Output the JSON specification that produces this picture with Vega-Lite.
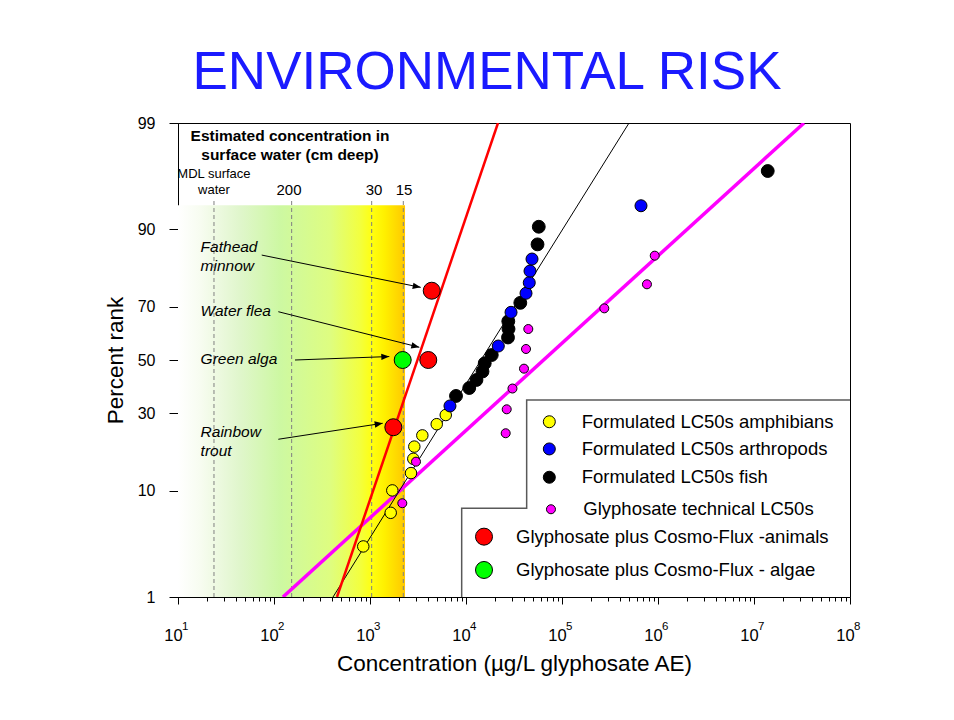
{
  "$schema": "https://vega.github.io/schema/vega-lite/v6.json",
  "autosize": {"type": "none"},
  "width": 672,
  "height": 474,
  "padding": {"left": 178, "top": 123, "right": 104, "bottom": 123},
  "background": "white",
  "title": {"text": "ENVIRONMENTAL RISK", "fontSize": 53, "font": "Liberation Sans", "fontWeight": "normal", "color": "#1a1aff", "anchor": "middle", "frame": "group", "dx": -27, "dy": 58, "offset": 31, "baseline": "alphabetic"},
  "config": {
    "font": "Liberation Sans",
    "view": {"stroke": "#000", "strokeWidth": 1},
    "axis": {"grid": false, "domainColor": "#000", "tickColor": "#000", "labelColor": "#000", "titleColor": "#000", "labelFont": "Liberation Sans", "titleFont": "Liberation Sans", "titleFontWeight": "normal"}
  },
  "datasets": {
    "zone": [{"conc": 10, "conc2": 2317, "probit": -2.3263, "probit2": 1.52}],
    "depthLines": [
      {"depth": "MDL", "conc": 23.7, "probit": -2.3263, "probit2": 1.57},
      {"depth": "200", "conc": 152.7, "probit": -2.3263, "probit2": 1.57},
      {"depth": "30", "conc": 1041, "probit": -2.3263, "probit2": 1.57},
      {"depth": "15", "conc": 2223, "probit": -2.3263, "probit2": 1.57}
    ],
    "fitFish": [{"conc": 412, "probit": -2.3263}, {"conc": 499000, "probit": 2.3263}],
    "fitTechnical": [{"conc": 124, "probit": -2.3263}, {"conc": 33190000, "probit": 2.3263}],
    "fitCosmo": [{"conc": 453, "probit": -2.3263}, {"conc": 21540, "probit": 2.3263}],
    "arrows": [
      {"arrow": "Fathead minnow", "end": "tail", "conc": 74.5, "probit": 1.03},
      {"arrow": "Fathead minnow", "end": "head", "conc": 3373, "probit": 0.713},
      {"arrow": "Water flea", "end": "tail", "conc": 110.9, "probit": 0.474},
      {"arrow": "Water flea", "end": "head", "conc": 3262, "probit": 0.125},
      {"arrow": "Green alga", "end": "tail", "conc": 165.6, "probit": 0.0},
      {"arrow": "Green alga", "end": "head", "conc": 1589, "probit": 0.034},
      {"arrow": "Rainbow trout", "end": "tail", "conc": 110.9, "probit": -0.778},
      {"arrow": "Rainbow trout", "end": "head", "conc": 1355, "probit": -0.621}
    ],
    "points": [
      {"group": "amphibians", "conc": 851, "probit": -1.83},
      {"group": "amphibians", "conc": 1643, "probit": -1.5},
      {"group": "amphibians", "conc": 1707, "probit": -1.28},
      {"group": "amphibians", "conc": 2673, "probit": -1.11},
      {"group": "amphibians", "conc": 2825, "probit": -0.97},
      {"group": "amphibians", "conc": 2894, "probit": -0.85},
      {"group": "amphibians", "conc": 3508, "probit": -0.74},
      {"group": "amphibians", "conc": 4955, "probit": -0.63},
      {"group": "amphibians", "conc": 6152, "probit": -0.54},
      {"group": "fish", "conc": 7870, "probit": -0.353},
      {"group": "fish", "conc": 10810, "probit": -0.275},
      {"group": "fish", "conc": 12850, "probit": -0.196},
      {"group": "fish", "conc": 14860, "probit": -0.113},
      {"group": "fish", "conc": 15670, "probit": -0.032},
      {"group": "fish", "conc": 18540, "probit": 0.049},
      {"group": "fish", "conc": 27380, "probit": 0.221},
      {"group": "fish", "conc": 27730, "probit": 0.304},
      {"group": "fish", "conc": 27580, "probit": 0.38},
      {"group": "fish", "conc": 36790, "probit": 0.561},
      {"group": "fish", "conc": 55590, "probit": 1.135},
      {"group": "fish", "conc": 57280, "probit": 1.308},
      {"group": "fish", "conc": 13900000, "probit": 1.855},
      {"group": "arthropods", "conc": 6808, "probit": -0.451},
      {"group": "arthropods", "conc": 21700, "probit": 0.137},
      {"group": "arthropods", "conc": 29440, "probit": 0.468},
      {"group": "arthropods", "conc": 42170, "probit": 0.655},
      {"group": "arthropods", "conc": 45600, "probit": 0.759},
      {"group": "arthropods", "conc": 46420, "probit": 0.873},
      {"group": "arthropods", "conc": 48700, "probit": 0.991},
      {"group": "arthropods", "conc": 665000, "probit": 1.514},
      {"group": "technical", "conc": 2170, "probit": -1.406},
      {"group": "technical", "conc": 3013, "probit": -0.998},
      {"group": "technical", "conc": 25910, "probit": -0.719},
      {"group": "technical", "conc": 26550, "probit": -0.484},
      {"group": "technical", "conc": 30480, "probit": -0.28},
      {"group": "technical", "conc": 40180, "probit": -0.085},
      {"group": "technical", "conc": 42170, "probit": 0.108},
      {"group": "technical", "conc": 44570, "probit": 0.304},
      {"group": "technical", "conc": 275800, "probit": 0.507},
      {"group": "technical", "conc": 767000, "probit": 0.743},
      {"group": "technical", "conc": 924700, "probit": 1.024},
      {"group": "animals", "conc": 4395, "probit": 0.68},
      {"group": "animals", "conc": 4046, "probit": 0.0},
      {"group": "animals", "conc": 1750, "probit": -0.66},
      {"group": "algae", "conc": 2191, "probit": 0.0}
    ],
    "legendBox": [
      {"order": 1, "conc": 100000000, "probit": -0.393},
      {"order": 2, "conc": 42850, "probit": -0.393},
      {"order": 3, "conc": 42850, "probit": -1.455},
      {"order": 4, "conc": 9016, "probit": -1.455},
      {"order": 5, "conc": 9016, "probit": -2.3263}
    ],
    "legendSymbols": [
      {"group": "amphibians", "conc": 73790, "probit": -0.606},
      {"group": "arthropods", "conc": 73790, "probit": -0.873},
      {"group": "fish", "conc": 73790, "probit": -1.151},
      {"group": "technical", "conc": 76740, "probit": -1.465},
      {"group": "animals", "conc": 15400, "probit": -1.734},
      {"group": "algae", "conc": 15400, "probit": -2.061}
    ],
    "legendLabels": [
      {"label": "Formulated LC50s amphibians", "conc": 160300, "probit": -0.606},
      {"label": "Formulated LC50s arthropods", "conc": 160300, "probit": -0.873},
      {"label": "Formulated LC50s fish", "conc": 160300, "probit": -1.151},
      {"label": "Glyphosate technical LC50s", "conc": 166700, "probit": -1.465},
      {"label": "Glyphosate plus Cosmo-Flux -animals", "conc": 33190, "probit": -1.734},
      {"label": "Glyphosate plus Cosmo-Flux - algae", "conc": 33190, "probit": -2.061}
    ],
    "header": [
      {"label": "Estimated concentration in", "conc": 146.8, "probit": 2.201},
      {"label": "surface water (cm deep)", "conc": 146.8, "probit": 2.012}
    ],
    "mdl": [
      {"label": "MDL surface", "conc": 23.7, "probit": 1.825},
      {"label": "water", "conc": 23.7, "probit": 1.668}
    ],
    "depthLabels": [
      {"label": "200", "conc": 143.3, "probit": 1.668},
      {"label": "30", "conc": 1101, "probit": 1.668},
      {"label": "15", "conc": 2260, "probit": 1.668}
    ],
    "species": [
      {"label": "Fathead", "conc": 17.2, "probit": 1.112},
      {"label": "minnow", "conc": 17.2, "probit": 0.922},
      {"label": "Water flea", "conc": 17.2, "probit": 0.481},
      {"label": "Green alga", "conc": 17.2, "probit": 0.007},
      {"label": "Rainbow", "conc": 17.2, "probit": -0.704},
      {"label": "trout", "conc": 17.2, "probit": -0.89}
    ],
    "exponents": [
      {"exp": "1", "conc": 10, "probit": -2.3263},
      {"exp": "2", "conc": 100, "probit": -2.3263},
      {"exp": "3", "conc": 1000, "probit": -2.3263},
      {"exp": "4", "conc": 10000, "probit": -2.3263},
      {"exp": "5", "conc": 100000, "probit": -2.3263},
      {"exp": "6", "conc": 1000000, "probit": -2.3263},
      {"exp": "7", "conc": 10000000, "probit": -2.3263},
      {"exp": "8", "conc": 100000000, "probit": -2.3263}
    ]
  },
  "encoding": {
    "x": {
      "field": "conc", "type": "quantitative",
      "scale": {"type": "log", "domain": [10, 100000000], "nice": false},
      "axis": {
        "title": "Concentration (µg/L glyphosate AE)",
        "titleFontSize": 22.5, "titlePadding": 9,
        "values": [10,20,30,40,50,60,70,80,90,100,200,300,400,500,600,700,800,900,1000,2000,3000,4000,5000,6000,7000,8000,9000,10000,20000,30000,40000,50000,60000,70000,80000,90000,100000,200000,300000,400000,500000,600000,700000,800000,900000,1000000,2000000,3000000,4000000,5000000,6000000,7000000,8000000,9000000,10000000,20000000,30000000,40000000,50000000,60000000,70000000,80000000,90000000,100000000],
        "labelExpr": "abs(log(datum.value)/LN10 - round(log(datum.value)/LN10)) < 0.001 ? '10' : ''",
        "tickSize": {"condition": {"test": "abs(log(datum.value)/LN10 - round(log(datum.value)/LN10)) < 0.001", "value": 7}, "value": 4},
        "labelFontSize": 16.5, "labelPadding": 23, "labelOffset": -5, "labelOverlap": false, "labelFlush": false
      }
    },
    "y": {
      "field": "probit", "type": "quantitative",
      "scale": {"domain": [-2.3263, 2.3263], "nice": false, "zero": false},
      "axis": {
        "title": "Percent rank", "titleFontSize": 22.5, "titlePadding": 10,
        "values": [-2.3263, -1.2816, -0.5244, 0, 0.5244, 1.2816, 2.3263],
        "labelExpr": "datum.value < -2 ? '1' : datum.value < -1 ? '10' : datum.value < -0.3 ? '30' : datum.value < 0.3 ? '50' : datum.value < 1 ? '70' : datum.value < 2 ? '90' : '99'",
        "tickSize": 9, "labelFontSize": 16, "labelPadding": 14
      }
    },
    "fill": {"field": "group", "type": "nominal", "legend": null, "scale": {"domain": ["amphibians", "arthropods", "fish", "technical", "animals", "algae"], "range": ["#ffff00", "#0000ff", "#000000", "#ff00ff", "#ff0000", "#00ff00"]}}
  },
  "layer": [
    {
      "data": {"name": "zone"},
      "mark": {"type": "rect", "color": {"gradient": "linear", "x1": 0, "y1": 0, "x2": 1, "y2": 0, "stops": [
        {"offset": 0, "color": "#ffffff"},
        {"offset": 0.1, "color": "#f7fcf0"},
        {"offset": 0.27, "color": "#e0f6cc"},
        {"offset": 0.45, "color": "#cdf8a2"},
        {"offset": 0.67, "color": "#defd80"},
        {"offset": 0.8, "color": "#f2ff40"},
        {"offset": 0.855, "color": "#ffff10"},
        {"offset": 0.91, "color": "#fff000"},
        {"offset": 1, "color": "#ffc800"}
      ]}},
      "encoding": {"x2": {"field": "conc2"}, "y2": {"field": "probit2"}, "fill": null}
    },
    {
      "data": {"name": "depthLines"},
      "mark": {"type": "rule", "color": "#808080", "strokeDash": [4, 3], "strokeWidth": 1},
      "encoding": {"y2": {"field": "probit2"}, "fill": null}
    },
    {
      "data": {"name": "fitTechnical"},
      "mark": {"type": "line", "color": "#ff00ff", "strokeWidth": 3.5, "clip": true},
      "encoding": {"fill": null}
    },
    {
      "data": {"name": "fitFish"},
      "mark": {"type": "line", "color": "#000000", "strokeWidth": 1, "clip": true},
      "encoding": {"fill": null}
    },
    {
      "data": {"name": "fitCosmo"},
      "mark": {"type": "line", "color": "#ff0000", "strokeWidth": 2.5, "clip": true},
      "encoding": {"fill": null}
    },
    {
      "data": {"name": "arrows"},
      "mark": {"type": "line", "color": "#000000", "strokeWidth": 1},
      "encoding": {"detail": {"field": "arrow"}, "fill": null}
    },
    {
      "data": {"name": "arrows"},
      "transform": [{"filter": "datum.end == 'head' && datum.arrow == 'Fathead minnow'"}],
      "mark": {"type": "point", "shape": "M0,0L-1,-0.4L-1,0.4Z", "filled": true, "color": "#000", "opacity": 1, "size": 256, "angle": 11.5},
      "encoding": {"fill": null}
    },
    {
      "data": {"name": "arrows"},
      "transform": [{"filter": "datum.end == 'head' && datum.arrow == 'Water flea'"}],
      "mark": {"type": "point", "shape": "M0,0L-1,-0.4L-1,0.4Z", "filled": true, "color": "#000", "opacity": 1, "size": 256, "angle": 14.2},
      "encoding": {"fill": null}
    },
    {
      "data": {"name": "arrows"},
      "transform": [{"filter": "datum.end == 'head' && datum.arrow == 'Green alga'"}],
      "mark": {"type": "point", "shape": "M0,0L-1,-0.4L-1,0.4Z", "filled": true, "color": "#000", "opacity": 1, "size": 256, "angle": -2.1},
      "encoding": {"fill": null}
    },
    {
      "data": {"name": "arrows"},
      "transform": [{"filter": "datum.end == 'head' && datum.arrow == 'Rainbow trout'"}],
      "mark": {"type": "point", "shape": "M0,0L-1,-0.4L-1,0.4Z", "filled": true, "color": "#000", "opacity": 1, "size": 256, "angle": -8.7},
      "encoding": {"fill": null}
    },
    {
      "data": {"name": "points"},
      "transform": [{"filter": "datum.group == 'amphibians'"}],
      "mark": {"type": "point", "shape": "circle", "filled": true, "stroke": "#000", "strokeWidth": 1, "opacity": 1, "size": 132},
      "encoding": {}
    },
    {
      "data": {"name": "points"},
      "transform": [{"filter": "datum.group == 'fish'"}],
      "mark": {"type": "point", "shape": "circle", "filled": true, "stroke": "#000", "strokeWidth": 1, "opacity": 1, "size": 165},
      "encoding": {}
    },
    {
      "data": {"name": "points"},
      "transform": [{"filter": "datum.group == 'arthropods'"}],
      "mark": {"type": "point", "shape": "circle", "filled": true, "stroke": "#000", "strokeWidth": 1, "opacity": 1, "size": 144},
      "encoding": {}
    },
    {
      "data": {"name": "points"},
      "transform": [{"filter": "datum.group == 'technical'"}],
      "mark": {"type": "point", "shape": "circle", "filled": true, "stroke": "#000", "strokeWidth": 1, "opacity": 1, "size": 81},
      "encoding": {}
    },
    {
      "data": {"name": "points"},
      "transform": [{"filter": "datum.group == 'animals' || datum.group == 'algae'"}],
      "mark": {"type": "point", "shape": "circle", "filled": true, "stroke": "#000", "strokeWidth": 1, "opacity": 1, "size": 289},
      "encoding": {}
    },
    {
      "data": {"name": "legendBox"},
      "mark": {"type": "line", "color": "#595959", "strokeWidth": 1.5},
      "encoding": {"order": {"field": "order", "type": "quantitative"}, "fill": null}
    },
    {
      "data": {"name": "legendSymbols"},
      "transform": [{"filter": "datum.group == 'amphibians' || datum.group == 'arthropods' || datum.group == 'fish'"}],
      "mark": {"type": "point", "shape": "circle", "filled": true, "stroke": "#000", "strokeWidth": 1, "opacity": 1, "size": 144},
      "encoding": {}
    },
    {
      "data": {"name": "legendSymbols"},
      "transform": [{"filter": "datum.group == 'technical'"}],
      "mark": {"type": "point", "shape": "circle", "filled": true, "stroke": "#000", "strokeWidth": 1, "opacity": 1, "size": 81},
      "encoding": {}
    },
    {
      "data": {"name": "legendSymbols"},
      "transform": [{"filter": "datum.group == 'animals' || datum.group == 'algae'"}],
      "mark": {"type": "point", "shape": "circle", "filled": true, "stroke": "#000", "strokeWidth": 1, "opacity": 1, "size": 289},
      "encoding": {}
    },
    {
      "data": {"name": "legendLabels"},
      "mark": {"type": "text", "align": "left", "baseline": "middle", "fontSize": 18.5, "color": "#000"},
      "encoding": {"text": {"field": "label"}, "fill": null}
    },
    {
      "data": {"name": "header"},
      "mark": {"type": "text", "align": "center", "baseline": "middle", "fontSize": 15.5, "fontWeight": "bold", "color": "#000"},
      "encoding": {"text": {"field": "label"}, "fill": null}
    },
    {
      "data": {"name": "mdl"},
      "mark": {"type": "text", "align": "center", "baseline": "middle", "fontSize": 13, "color": "#000"},
      "encoding": {"text": {"field": "label"}, "fill": null}
    },
    {
      "data": {"name": "depthLabels"},
      "mark": {"type": "text", "align": "center", "baseline": "middle", "fontSize": 15, "color": "#000"},
      "encoding": {"text": {"field": "label"}, "fill": null}
    },
    {
      "data": {"name": "species"},
      "mark": {"type": "text", "align": "left", "baseline": "middle", "fontSize": 15.5, "fontStyle": "italic", "color": "#000"},
      "encoding": {"text": {"field": "label"}, "fill": null}
    },
    {
      "data": {"name": "exponents"},
      "mark": {"type": "text", "align": "left", "baseline": "middle", "fontSize": 11.5, "color": "#000", "dx": 4, "dy": 30, "clip": false},
      "encoding": {"text": {"field": "exp"}, "fill": null}
    }
  ]
}
